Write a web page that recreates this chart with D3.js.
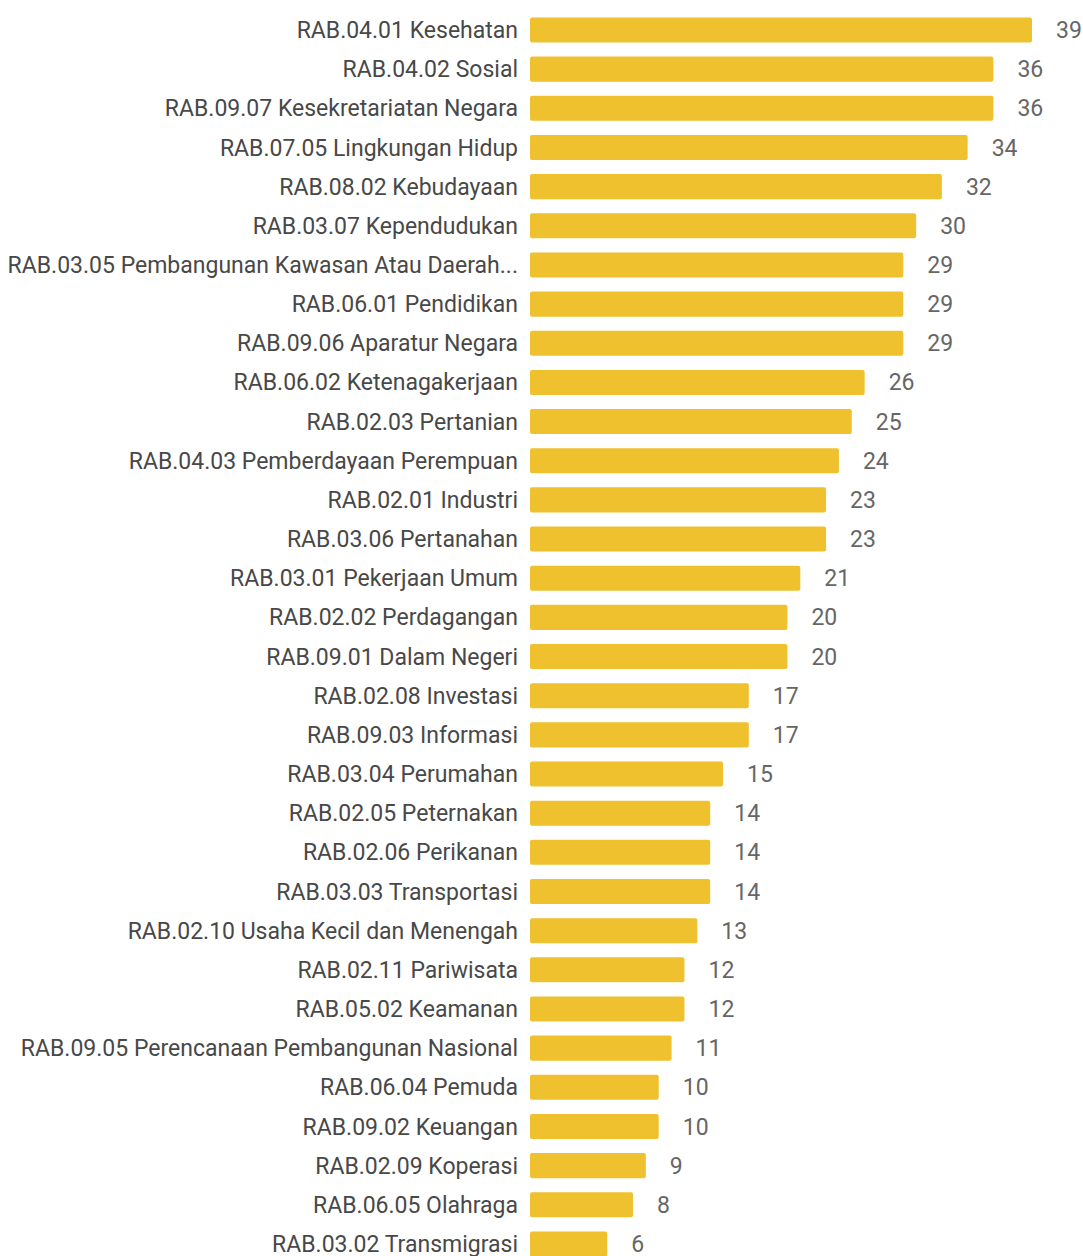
<!DOCTYPE html>
<html>
<head>
<meta charset="utf-8">
<script src="https://cdn.jsdelivr.net/npm/d3@7"></script>
<style>
  body { margin: 0; background: #fff; }
  text { font-family: Roboto, "Noto Sans", sans-serif; }
</style>
</head>
<body>
<div id="chart"></div>
<script>
// categories and counts, top to bottom
const categories = [
  "RAB.04.01 Kesehatan", "RAB.04.02 Sosial", "RAB.09.07 Kesekretariatan Negara",
  "RAB.07.05 Lingkungan Hidup", "RAB.08.02 Kebudayaan", "RAB.03.07 Kependudukan",
  "RAB.03.05 Pembangunan Kawasan Atau Daerah...", "RAB.06.01 Pendidikan",
  "RAB.09.06 Aparatur Negara", "RAB.06.02 Ketenagakerjaan", "RAB.02.03 Pertanian",
  "RAB.04.03 Pemberdayaan Perempuan", "RAB.02.01 Industri", "RAB.03.06 Pertanahan",
  "RAB.03.01 Pekerjaan Umum", "RAB.02.02 Perdagangan", "RAB.09.01 Dalam Negeri",
  "RAB.02.08 Investasi", "RAB.09.03 Informasi", "RAB.03.04 Perumahan",
  "RAB.02.05 Peternakan", "RAB.02.06 Perikanan", "RAB.03.03 Transportasi",
  "RAB.02.10 Usaha Kecil dan Menengah", "RAB.02.11 Pariwisata", "RAB.05.02 Keamanan",
  "RAB.09.05 Perencanaan Pembangunan Nasional", "RAB.06.04 Pemuda", "RAB.09.02 Keuangan",
  "RAB.02.09 Koperasi", "RAB.06.05 Olahraga", "RAB.03.02 Transmigrasi"
];
const counts = [39, 36, 36, 34, 32, 30, 29, 29, 29, 26, 25, 24, 23, 23, 21, 20, 20,
  17, 17, 15, 14, 14, 14, 13, 12, 12, 11, 10, 10, 9, 8, 6];

const data = categories.map((c, i) => ({ name: c, value: counts[i] }));

const W = 1083, H = 1256;
const barLeft = 530, barRight = 1032;
const rowStep = 39.16;
const topY = 10.4;

const svg = d3.select("#chart").append("svg")
  .attr("width", W)
  .attr("height", H);

const x = d3.scaleLinear()
  .domain([0, 39])
  .range([barLeft, barRight]);

const y = d3.scaleBand()
  .domain(categories)
  .range([topY, topY + categories.length * rowStep])
  .paddingInner(0.36)
  .paddingOuter(0.18);

// bars
svg.selectAll("rect.bar")
  .data(data)
  .join("rect")
  .attr("class", "bar")
  .attr("x", x(0))
  .attr("y", d => y(d.name))
  .attr("width", d => x(d.value) - x(0))
  .attr("height", y.bandwidth())
  .attr("rx", 2)
  .attr("fill", "#efc12f");

// category labels
svg.selectAll("text.label")
  .data(data)
  .join("text")
  .attr("class", "label")
  .attr("x", barLeft - 12)
  .attr("y", d => y(d.name) + y.bandwidth() / 2)
  .attr("dy", "0.35em")
  .attr("text-anchor", "end")
  .attr("font-size", 23)
  .attr("fill", "#484848")
  .text(d => d.name);

// value labels
svg.selectAll("text.value")
  .data(data)
  .join("text")
  .attr("class", "value")
  .attr("x", d => x(d.value) + 24)
  .attr("y", d => y(d.name) + y.bandwidth() / 2)
  .attr("dy", "0.35em")
  .attr("font-size", 23)
  .attr("fill", "#666")
  .text(d => d.value);
</script>
</body>
</html>
